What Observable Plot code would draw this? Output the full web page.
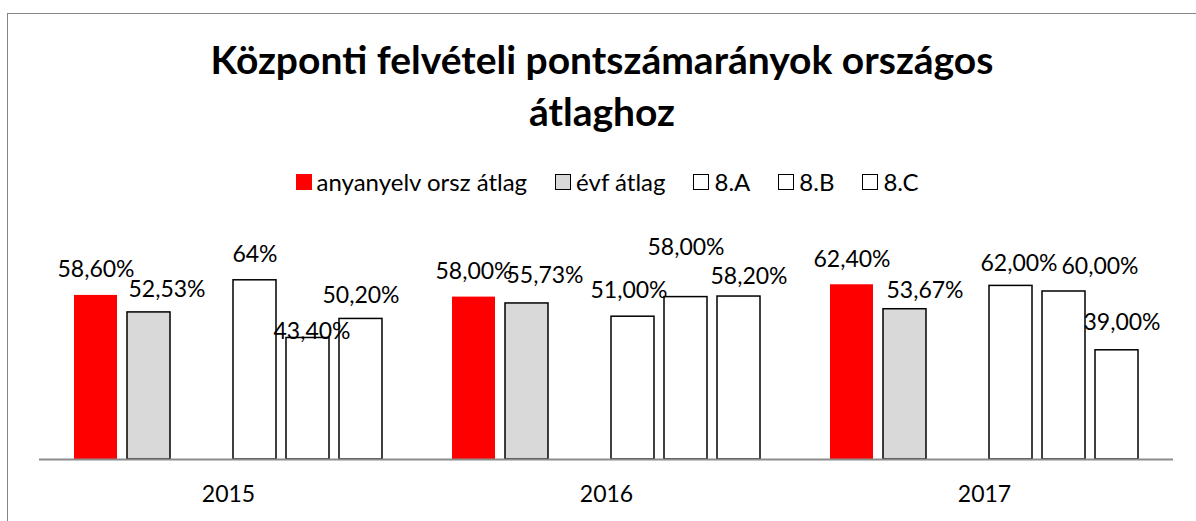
<!DOCTYPE html>
<html>
<head>
<meta charset="utf-8">
<script src="https://cdn.jsdelivr.net/npm/d3@7"></script>
<script src="https://cdn.jsdelivr.net/npm/@observablehq/plot@0.6"></script>
<style>
  html, body { margin: 0; padding: 0; background: #fff; }
  body { position: relative; width: 1196px; height: 521px; overflow: hidden; font-family: Lato, "Open Sans", sans-serif; color: #000; }
  #frameTop { position: absolute; left: 7px; top: 13px; width: 1189px; height: 1px; background: #868686; }
  #frameLeft { position: absolute; left: 7px; top: 13px; width: 1px; height: 508px; background: #868686; }
  #title { position: absolute; left: 8px; width: 1188px; top: 33px; text-align: center; font-weight: 700; font-size: 39px; line-height: 52px; }
  #legend { position: absolute; left: 18px; width: 1178px; top: 169px; display: flex; justify-content: center; align-items: center; gap: 28px; font-size: 24px; line-height: 26px; white-space: nowrap; }
  .item { display: flex; align-items: center; }
  .sw { display: inline-block; width: 16px; height: 16px; box-sizing: border-box; margin-right: 5px; }
  #chart { position: absolute; left: 0; top: 200px; width: 1196px; height: 321px; }
  #chart svg { display: block; }
</style>
</head>
<body>
<div id="frameTop"></div>
<div id="frameLeft"></div>
<div id="title">Központi felvételi pontszámarányok országos<br>átlaghoz</div>
<div id="legend"></div>
<div id="chart"></div>
<script>
// ---- data ----
const years = ["2015", "2016", "2017"];
const seriesNames = ["anyanyelv orsz átlag", "évf átlag", "8.A", "8.B", "8.C"];
// slot order along each year group (one empty slot between "évf átlag" and "8.A")
const slots = ["anyanyelv orsz átlag", "évf átlag", " ", "8.A", "8.B", "8.C"];
const seriesFills = ["#ff0000", "#d9d9d9", "#ffffff", "#ffffff", "#ffffff"];

const orszAtlag = [58.60, 58.00, 62.40];
const evfAtlag  = [52.53, 55.73, 53.67];
const osztA     = [64.00, 51.00, 62.00];
const osztB     = [43.40, 58.00, 60.00];
const osztC     = [50.20, 58.20, 39.00];

const labelsOrszAtlag = ["58,60%", "58,00%", "62,40%"];
const labelsEvfAtlag  = ["52,53%", "55,73%", "53,67%"];
const labelsOsztA     = ["64%", "51,00%", "62,00%"];
const labelsOsztB     = ["43,40%", "58,00%", "60,00%"];
const labelsOsztC     = ["50,20%", "58,20%", "39,00%"];

// manual data-label nudges (dx, extra lift in px), as placed in the original chart
const nudgeOrszAtlag = [[0, 0], [0, 0], [0, 0]];
const nudgeEvfAtlag  = [[18, -3], [18, 2], [20, -7]];
const nudgeOsztA     = [[0, 0], [-4, 1], [8, -3]];
const nudgeOsztB     = [[4, -19], [0, 24], [36, 0]];
const nudgeOsztC     = [[0, -2], [10, -5], [5, 2]];

const seriesValues = [orszAtlag, evfAtlag, osztA, osztB, osztC];
const seriesLabels = [labelsOrszAtlag, labelsEvfAtlag, labelsOsztA, labelsOsztB, labelsOsztC];
const seriesNudges = [nudgeOrszAtlag, nudgeEvfAtlag, nudgeOsztA, nudgeOsztB, nudgeOsztC];

const rows = [];
seriesNames.forEach((s, i) => {
  years.forEach((y, j) => {
    rows.push({series: s, year: y, value: seriesValues[i][j], label: seriesLabels[i][j],
               ndx: seriesNudges[i][j][0], nlift: seriesNudges[i][j][1]});
  });
});

// ---- legend ----
const legend = document.getElementById("legend");
seriesNames.forEach((s, i) => {
  const it = document.createElement("span");
  it.className = "item";
  const sw = document.createElement("span");
  sw.className = "sw";
  sw.style.background = seriesFills[i];
  if (i > 0) sw.style.border = "1.5px solid #000";
  it.appendChild(sw);
  it.appendChild(document.createTextNode(s));
  legend.appendChild(it);
});

// ---- chart ----
const baseLift = 18;
const chart = Plot.plot({
  width: 1196,
  height: 321,
  marginTop: 35,
  marginBottom: 62,
  marginLeft: 38,
  marginRight: 22,
  style: {fontFamily: "Lato, 'Open Sans', sans-serif", fontSize: "23px", color: "#000", background: "transparent", overflow: "visible"},
  fx: {domain: years, padding: 0, axis: "bottom", tickSize: 0, tickPadding: 26, label: null},
  x: {domain: slots, paddingInner: 0.185, paddingOuter: 0.602, axis: null},
  y: {domain: [0, 80], axis: null},
  color: {domain: seriesNames, range: seriesFills},
  marks: [
    Plot.barY(rows.filter(d => d.series === seriesNames[0]), {fx: "year", x: "series", y: "value", fill: "series"}),
    Plot.barY(rows.filter(d => d.series !== seriesNames[0]), {fx: "year", x: "series", y: "value", fill: "series", stroke: "#000", strokeWidth: 1.5}),
    Plot.ruleY([0], {stroke: "#8c8c8c", strokeWidth: 2}),
    ...rows.map(r => Plot.text([r], {fx: "year", x: "series", y: "value", text: "label", lineAnchor: "bottom",
      dx: r.ndx, dy: -(baseLift + r.nlift), fontSize: 23, fill: "#000"}))
  ]
});
document.getElementById("chart").appendChild(chart);
</script>
</body>
</html>
